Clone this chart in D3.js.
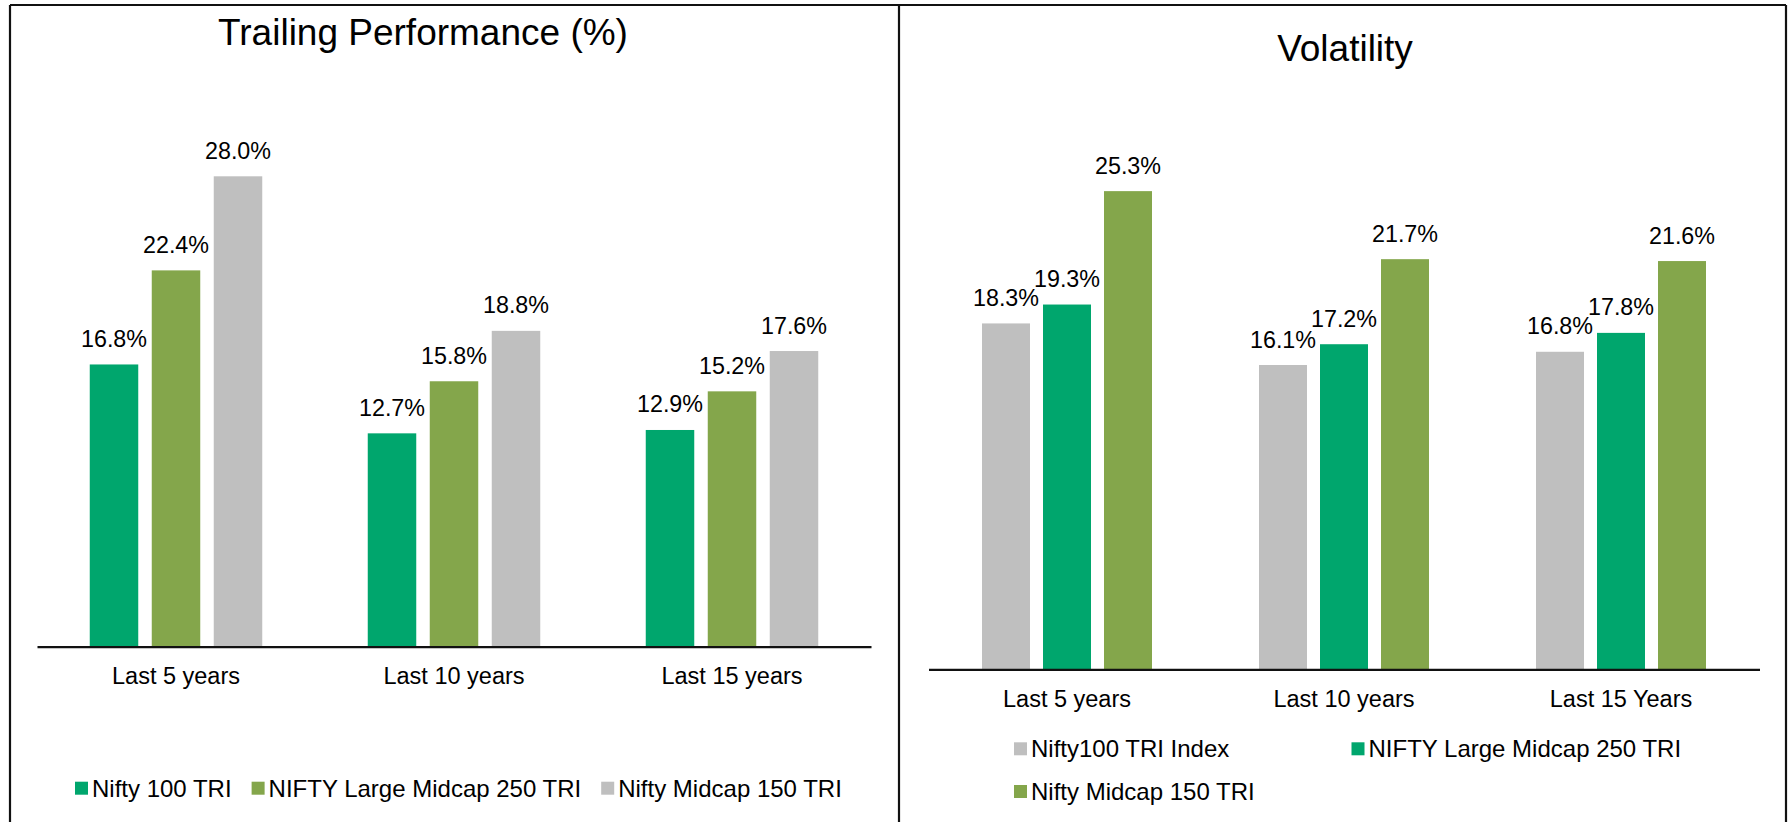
<!DOCTYPE html>
<html>
<head>
<meta charset="utf-8">
<script src="https://cdn.jsdelivr.net/npm/d3@7"></script>
<style>
body { margin: 0; background: #fff; }
text { font-family: "Liberation Sans", Arial, sans-serif; fill: #000; }
</style>
</head>
<body>
<div id="chart"></div>
<script>
// trailing performance
const perfCategories = ['Last 5 years', 'Last 10 years', 'Last 15 years'];
const perfSeries = ['Nifty 100 TRI', 'NIFTY Large Midcap 250 TRI', 'Nifty Midcap 150 TRI'];
const perfNifty100 = [16.8, 12.7, 12.9];
const perfLargeMid250 = [22.4, 15.8, 15.2];
const perfMidcap150 = [28.0, 18.8, 17.6];

// volatility
const volCategories = ['Last 5 years', 'Last 10 years', 'Last 15 Years'];
const volSeries = ['Nifty100 TRI Index', 'NIFTY Large Midcap 250 TRI', 'Nifty Midcap 150 TRI'];
const volNifty100 = [18.3, 16.1, 16.8];
const volLargeMid250 = [19.3, 17.2, 17.8];
const volMidcap150 = [25.3, 21.7, 21.6];

const green = '#00a66d';
const olive = '#84a64b';
const grey = '#bfbfbf';

const size = { width: 1789, height: 822 };

const svg = d3.select('#chart')
    .append('svg')
    .attr('width', size.width)
    .attr('height', size.height);

// frame around the two panels
const frame = [
    [10, 5, 1786, 5],
    [10, 5, 10, 822],
    [899, 5, 899, 822],
    [1786, 5, 1786, 822]
];
frame.forEach(l => {
    svg.append('line')
        .attr('x1', l[0]).attr('y1', l[1])
        .attr('x2', l[2]).attr('y2', l[3])
        .attr('stroke', '#111')
        .attr('stroke-width', 2.2);
});

const panels = [
    {
        title: 'Trailing Performance (%)',
        titleX: 423, titleY: 45,
        categories: perfCategories,
        series: perfSeries,
        values: [perfNifty100, perfLargeMid250, perfMidcap150],
        colors: [green, olive, grey],
        left: 37, right: 871,
        baseline: 646.7, top: 142.7,
        barWidth: 48.5, barGap: 13.5,
        legend: { type: 'flow', x: 75, y: 796.7 }
    },
    {
        title: 'Volatility',
        titleX: 1345, titleY: 61,
        categories: volCategories,
        series: volSeries,
        values: [volNifty100, volLargeMid250, volMidcap150],
        colors: [grey, green, olive],
        left: 928.5, right: 1759.5,
        baseline: 669.3, top: 102.3,
        barWidth: 48, barGap: 13,
        legend: { type: 'grid', x: 1014, y: 757.3, colWidth: 337.5, rowHeight: 42.7 }
    }
];

const drawPanel = (p) => {
    const g = svg.append('g');

    g.append('text')
        .attr('x', p.titleX)
        .attr('y', p.titleY)
        .attr('text-anchor', 'middle')
        .style('font-size', '37px')
        .text(p.title);

    const x0 = d3.scaleBand().domain(p.categories).range([p.left, p.right]);
    const step = p.barWidth + p.barGap;
    const inner = step * p.series.length - p.barGap;
    const x1 = d3.scaleBand()
        .domain(p.series)
        .range([0, inner])
        .paddingInner(p.barGap / step);
    const y = d3.scaleLinear().domain([0, 30]).range([p.baseline, p.top]);

    const rows = p.categories.map((c, i) => ({
        category: c,
        bars: p.series.map((s, j) => ({ series: s, value: p.values[j][i], color: p.colors[j] }))
    }));

    const groups = g.selectAll('.group')
        .data(rows)
        .enter()
        .append('g')
            .attr('class', 'group')
            .attr('transform', d => `translate(${x0(d.category) + (x0.bandwidth() - inner) / 2}, 0)`);

    groups.selectAll('rect')
        .data(d => d.bars)
        .enter()
        .append('rect')
            .attr('x', d => x1(d.series))
            .attr('y', d => y(d.value))
            .attr('width', x1.bandwidth())
            .attr('height', d => y(0) - y(d.value))
            .attr('fill', d => d.color);

    groups.selectAll('.label')
        .data(d => d.bars)
        .enter()
        .append('text')
            .attr('class', 'label')
            .attr('x', d => x1(d.series) + x1.bandwidth() / 2)
            .attr('y', d => y(d.value) - 17.5)
            .attr('text-anchor', 'middle')
            .style('font-size', '23.3px')
            .text(d => d.value.toFixed(1) + '%');

    const axis = g.append('g')
        .attr('transform', `translate(0, ${p.baseline})`)
        .call(d3.axisBottom(x0).tickSize(0).tickSizeOuter(0).tickPadding(21));
    axis.select('.domain')
        .attr('stroke', '#111')
        .attr('stroke-width', 2.2);
    axis.selectAll('text')
        .style('font-family', '"Liberation Sans", Arial, sans-serif')
        .style('font-size', '23.5px')
        .attr('fill', '#000');

    // legend
    const leg = p.legend;
    let lx = leg.x;
    p.series.forEach((s, j) => {
        let ix, iy;
        if (leg.type === 'flow') {
            ix = lx;
            iy = leg.y;
        } else {
            ix = leg.x + (j % 2) * leg.colWidth;
            iy = leg.y + Math.floor(j / 2) * leg.rowHeight;
        }
        g.append('rect')
            .attr('x', ix)
            .attr('y', iy - 15)
            .attr('width', 13)
            .attr('height', 13)
            .attr('fill', p.colors[j]);
        const t = g.append('text')
            .attr('x', ix + 17)
            .attr('y', iy)
            .style('font-size', '24px')
            .text(s);
        lx = ix + 17 + t.node().getComputedTextLength() + 20;
    });
};

panels.forEach(drawPanel);
</script>
</body>
</html>
